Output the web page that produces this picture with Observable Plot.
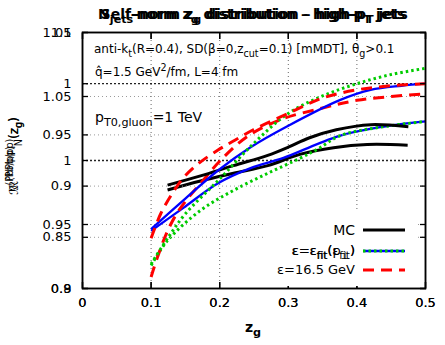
<!DOCTYPE html>
<html><head><meta charset="utf-8">
<script src="https://cdn.jsdelivr.net/npm/d3@7"></script>
<script src="https://cdn.jsdelivr.net/npm/@observablehq/plot@0.6"></script>
<style>
html,body{margin:0;padding:0;background:#fff;}
#chart{position:relative;width:445px;height:345px;}
#chart svg{position:absolute;left:0;top:0;}
</style></head><body><div id="chart"></div>
<script>
// ---- axes ----
const xTicks = [0, 0.1, 0.2, 0.3, 0.4, 0.5];
const yTicksSelf = [0.8, 0.85, 0.9, 0.95, 1, 1.05];   // self-normalised panel
const yTicksNjets = [0.9, 0.95, 1, 1.05, 1.1];         // N_jets-normalised panel

// ---- self-normalised curves [z_g, ratio] ----
const selfMC = [[0.124,0.901],[0.172,0.910],[0.22,0.920],[0.27,0.930],[0.30,0.938],[0.33,0.947],[0.37,0.955],[0.42,0.960],[0.475,0.958]];
const selfFitBlue = [[0.1,0.858],[0.147,0.886],[0.197,0.915],[0.245,0.938],[0.30,0.959],[0.375,0.984],[0.42,0.994],[0.465,0.998],[0.5,1.0]];
const selfFitGreen = [[0.1,0.824],[0.125,0.850],[0.15,0.873],[0.2,0.907],[0.25,0.942],[0.3,0.971],[0.35,0.988],[0.4,1.0],[0.45,1.009],[0.5,1.015]];
const selfEps165 = [[0.1,0.849],[0.114,0.873],[0.131,0.893],[0.147,0.908],[0.169,0.922],[0.197,0.935],[0.22,0.944],[0.249,0.955],[0.3,0.971],[0.35,0.986],[0.4,0.994],[0.45,0.998],[0.5,1.0]];

// ---- N_jets-normalised curves [z_g, ratio] ----
const njetsMC = [[0.124,0.977],[0.172,0.984],[0.22,0.990],[0.27,0.996],[0.318,1.005],[0.366,1.010],[0.415,1.0125],[0.474,1.012]];
const njetsFitBlue = [[0.1,0.945],[0.147,0.963],[0.197,0.982],[0.245,0.994],[0.293,1.002],[0.343,1.013],[0.376,1.0195],[0.434,1.026],[0.5,1.0305]];
const njetsFitGreen = [[0.1,0.918],[0.124,0.9375],[0.172,0.961],[0.22,0.9766],[0.27,0.990],[0.318,1.002],[0.343,1.009],[0.376,1.0195],[0.434,1.026],[0.5,1.0305]];
const njetsEps165 = [[0.1,0.909],[0.109,0.924],[0.124,0.945],[0.138,0.959],[0.153,0.970],[0.172,0.982],[0.201,1.0],[0.241,1.019],[0.289,1.032],[0.35,1.041],[0.4,1.047],[0.45,1.05],[0.5,1.052]];

const fmt = d => String(Math.round(d * 100) / 100);
const styles = {
  mc: {stroke: "black", strokeWidth: 3},
  blue: {stroke: "#0000ff", strokeWidth: 2.3},
  green: {stroke: "#00cc00", strokeWidth: 3, strokeDasharray: "2.5,3"},
  red: {stroke: "#ff0000", strokeWidth: 3, strokeDasharray: "11,7"}
};

function makePlot(yDomain, yTicks, curves, xGrid, bg) {
  const marks = [];
  marks.push(Plot.ruleY(yTicks.filter(t => t !== 1 && t > yDomain[0] && t < yDomain[1]), {stroke: "#9a9a9a", strokeDasharray: "1,3", strokeWidth: 1}));
  marks.push(Plot.ruleY([1], {stroke: "#222", strokeDasharray: "2,2", strokeWidth: 1.3}));
  if (xGrid) marks.push(Plot.ruleX(xTicks.slice(1, -1), {stroke: "#666", strokeDasharray: "1,3", strokeWidth: 1}));
  curves.forEach(([data, st]) => marks.push(Plot.line(data, {x: d => d[0], y: d => d[1], curve: "catmull-rom", strokeLinejoin: "round", strokeLinecap: "butt", ...st})));
  marks.push(Plot.axisX({ticks: xTicks, tickSize: -6, tickPadding: 15, tickFormat: fmt, label: null, strokeWidth: 1.3}));
  marks.push(Plot.axisX({anchor: "top", ticks: xTicks, tickSize: -6, tickFormat: () => "", label: null, strokeWidth: 1.3}));
  marks.push(Plot.axisY({ticks: yTicks, tickSize: -6, tickPadding: 17, tickFormat: fmt, label: null, strokeWidth: 1.3}));
  marks.push(Plot.axisY({anchor: "right", ticks: yTicks, tickSize: -6, tickFormat: () => "", label: null, strokeWidth: 1.3}));
  marks.push(Plot.frame({stroke: "black", strokeWidth: 1.5}));
  return Plot.plot({
    width: 445, height: 345,
    marginTop: 32, marginRight: 20, marginBottom: 57, marginLeft: 82,
    x: {domain: [0, 0.5]}, y: {domain: yDomain},
    style: {fontFamily: "DejaVu Sans", fontSize: "13px", color: "black", background: bg},
    marks
  });
}

const chart = document.getElementById("chart");
chart.appendChild(makePlot([0.9, 1.1], yTicksNjets,
  [[njetsMC, styles.mc], [njetsFitBlue, styles.blue], [njetsFitGreen, styles.green], [njetsEps165, styles.red]], true, "white"));
chart.appendChild(makePlot([0.8, 1.05], yTicksSelf,
  [[selfMC, styles.mc], [selfFitBlue, styles.blue], [selfFitGreen, styles.green], [selfEps165, styles.red]], false, "transparent"));

// ---- overlay: titles, annotations, legend ----
const svg = d3.select(chart).append("svg").attr("width", 445).attr("height", 345);
function rich(x, y, parts, {size = 12, anchor = "start", weight = "normal", transform = null} = {}) {
  const t = svg.append("text").attr("x", x).attr("y", y).attr("text-anchor", anchor)
    .attr("font-size", size).attr("font-weight", weight).attr("font-family", "DejaVu Sans").attr("fill", "black");
  if (transform) t.attr("transform", transform);
  let cur = 0;
  parts.forEach(p => {
    const [str, type] = typeof p === "string" ? [p, null] : p;
    let target = 0, fs = size;
    if (type === "sub") { target = 0.3 * size; fs = 0.8 * size; }
    if (type === "sup") { target = -0.42 * size; fs = 0.8 * size; }
    t.append("tspan").attr("dy", target - cur).attr("font-size", fs).text(str);
    cur = target;
  });
  return t;
}

// titles (two overlapping)
rich(253, 19, ["Self-norm z", ["g","sub"], " distribution – high-p", ["T","sub"], " jets"], {size: 14, anchor: "middle", weight: "bold"});
rich(253, 19, ["N", ["jets","sub"], "-norm z", ["g","sub"], " distribution – high-p", ["T","sub"], " jets"], {size: 14, anchor: "middle", weight: "bold"});

// y label (two overlapping)
rich(0, 0, ["ℛ", ["(PbPb/pp)","sup"], "(z", ["g","sub"], ")"], {size: 12, anchor: "middle", transform: "translate(18,156) rotate(-90)"});
rich(0, 0, ["ℛ", ["(Pb/pp)","sup"], ["N","sub"], "(z", ["g","sub"], ")"], {size: 12, anchor: "middle", transform: "translate(18,154) rotate(-90)"});

// x label
rich(253, 332, ["z", ["g","sub"]], {size: 14, anchor: "middle", weight: "bold"});

// annotations
rich(94, 53, ["anti-k", ["t","sub"], "(R=0.4), SD(β=0,z", ["cut","sub"], "=0.1) [mMDT], θ", ["g","sub"], ">0.1"], {size: 12});
rich(95, 76, ["q̂=1.5 GeV", ["2","sup"], "/fm, L=4 fm"], {size: 12});
rich(95, 122, ["p", ["T0,gluon","sub"], "=1 TeV"], {size: 14});

// legend
svg.append("rect").attr("x", 265).attr("y", 212).attr("width", 150).attr("height", 74).attr("fill", "white");
const legY = [230, 251, 270];
svg.append("line").attr("x1", 363).attr("x2", 405).attr("y1", legY[0]).attr("y2", legY[0]).attr("stroke", "black").attr("stroke-width", 3);
svg.append("line").attr("x1", 363).attr("x2", 405).attr("y1", legY[1]).attr("y2", legY[1]).attr("stroke", "#0000ff").attr("stroke-width", 2.3);
svg.append("line").attr("x1", 363).attr("x2", 405).attr("y1", legY[1]).attr("y2", legY[1]).attr("stroke", "#00cc00").attr("stroke-width", 3).attr("stroke-dasharray", "2.5,3");
svg.append("line").attr("x1", 363).attr("x2", 405).attr("y1", legY[2]).attr("y2", legY[2]).attr("stroke", "#ff0000").attr("stroke-width", 3).attr("stroke-dasharray", "11,7");
rich(355, 235, ["MC"], {size: 14, anchor: "end"});
rich(355, 255, ["ε=ε", ["fit","sub"], "(p", ["⊥","sub"], ")"], {size: 13, anchor: "end"});
rich(355, 255, ["ε=ε", ["fit","sub"], "(ε", ["fit","sub"], ")"], {size: 13, anchor: "end"});
rich(355, 274, ["ε=16.5 GeV"], {size: 13, anchor: "end"});
</script></body></html>
